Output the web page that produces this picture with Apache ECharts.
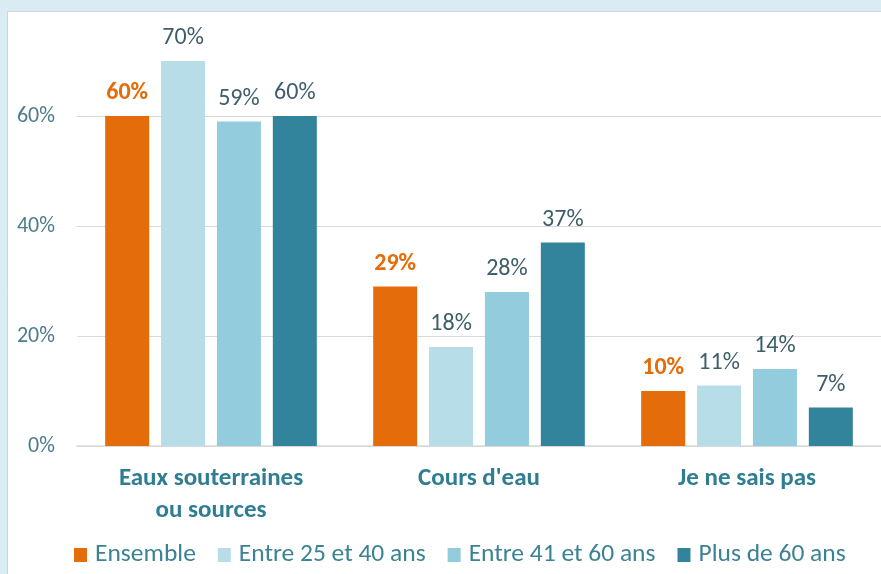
<!DOCTYPE html>
<html>
<head>
<meta charset="utf-8">
<script src="https://cdn.jsdelivr.net/npm/echarts@6/dist/echarts.min.js"></script>
<style>
  html, body { margin: 0; padding: 0; background: #fff; }
  #main { width: 881px; height: 574px; }
</style>
</head>
<body>
<div id="main"></div>
<script>
// categories + series values (percent)
var categories = ['Eaux souterraines\nou sources', "Cours d'eau", 'Je ne sais pas'];
var seriesNames = ['Ensemble', 'Entre 25 et 40 ans', 'Entre 41 et 60 ans', 'Plus de 60 ans'];
var ensemble = [60, 29, 10];
var entre25et40 = [70, 18, 11];
var entre41et60 = [59, 28, 14];
var plusDe60 = [60, 37, 7];
var colors = ['#E46C0A', '#B7DDE8', '#93CDDD', '#31849B'];

var FONT = "Carlito, 'Open Sans', sans-serif";

function barSeries(idx, data) {
  var isMain = idx === 0;
  return {
    name: seriesNames[idx],
    type: 'bar',
    data: data,
    barWidth: 44,
    barGap: '27%',
    itemStyle: { color: colors[idx] },
    label: {
      show: true,
      position: 'top',
      distance: 11,
      formatter: '{c}%',
      fontFamily: FONT,
      fontSize: 24,
      fontWeight: isMain ? 'bold' : 'normal',
      color: isMain ? '#E46C0A' : '#3e5e6a'
    }
  };
}

var myChart = echarts.init(document.getElementById('main'));

myChart.setOption({
  backgroundColor: '#ffffff',
  animation: false,
  textStyle: { fontFamily: FONT },
  graphic: [
    // light blue frame at top and left
    { type: 'rect', left: 0, top: 0, shape: { width: 881, height: 11 }, style: { fill: '#DAECF3' }, z: 100 },
    { type: 'rect', left: 0, top: 0, shape: { width: 7, height: 574 }, style: { fill: '#DAECF3' }, z: 100 },
    { type: 'line', shape: { x1: 7, y1: 11.5, x2: 881, y2: 11.5 }, style: { stroke: '#c9d7dd', lineWidth: 1 }, z: 101 },
    { type: 'line', shape: { x1: 7.5, y1: 11, x2: 7.5, y2: 574 }, style: { stroke: '#c9d7dd', lineWidth: 1 }, z: 101 }
  ],
  grid: { left: 77, right: 0, top: 61, bottom: 128, containLabel: false },
  legend: {
    left: 74,
    top: 542,
    padding: 0,
    icon: 'rect',
    itemWidth: 13,
    itemHeight: 14,
    itemGap: 22,
    data: seriesNames,
    textStyle: { fontFamily: FONT, fontSize: 25.5, color: '#3b8294', padding: [0, 0, 0, 3] }
  },
  xAxis: {
    type: 'category',
    data: categories,
    axisTick: { show: false },
    axisLine: { lineStyle: { color: '#d9d9d9', width: 1.5 } },
    axisLabel: {
      margin: 17,
      fontFamily: FONT,
      fontSize: 25,
      fontWeight: 'bold',
      lineHeight: 32,
      color: '#2f7d92'
    }
  },
  yAxis: {
    type: 'value',
    min: 0,
    max: 70,
    interval: 20,
    axisLine: { show: false },
    axisTick: { show: false },
    splitLine: { showMaxLine: false, lineStyle: { color: '#d9d9d9', width: 1 } },
    axisLabel: {
      showMaxLabel: false,
      margin: 22,
      formatter: '{value}%',
      fontFamily: FONT,
      fontSize: 22,
      color: '#4d7d8d'
    }
  },
  series: [
    barSeries(0, ensemble),
    barSeries(1, entre25et40),
    barSeries(2, entre41et60),
    barSeries(3, plusDe60)
  ]
});
</script>
</body>
</html>
